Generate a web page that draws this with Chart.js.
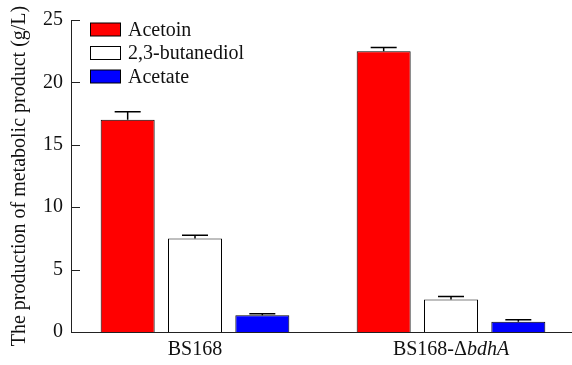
<!DOCTYPE html>
<html>
<head>
<meta charset="utf-8">
<script src="https://cdn.jsdelivr.net/npm/chart.js@4.4.0/dist/chart.umd.min.js"></script>
<style>
  html, body { margin: 0; padding: 0; background: #fff; }
  #wrap { width: 572px; height: 365px; }
</style>
</head>
<body>
<div id="wrap"><canvas id="myChart" width="572" height="365"></canvas></div>
<script>
var strains = ['BS168', 'BS168-\u0394bdhA'];
var acetoin = [17.0, 22.5];
var acetoinErr = [0.65, 0.3];
var butanediol = [7.5, 2.6];
var butanediolErr = [0.25, 0.25];
var acetate = [1.35, 0.82];
var acetateErr = [0.12, 0.17];
var yTicks = [0, 5, 10, 15, 20, 25];

var FONT = '"Liberation Serif", "Times New Roman", serif';

// the original groups are not centred in the plot: stretch the x scale a bit
var shiftX = {
  id: 'shiftX',
  afterLayout: function(chart) {
    var x = chart.scales.x;
    x.left -= 4;
    x.right += 7;
    x.width = x.right - x.left;
    x.configure();
  }
};

// upper error bars, drawn through the y scale
var errorBars = {
  id: 'errorBars',
  afterDatasetsDraw: function(chart) {
    var ctx = chart.ctx;
    var y = chart.scales.y;
    ctx.save();
    ctx.strokeStyle = '#000';
    ctx.lineWidth = 1.5;
    chart.data.datasets.forEach(function(ds, i) {
      var meta = chart.getDatasetMeta(i);
      meta.data.forEach(function(bar, j) {
        var top = y.getPixelForValue(ds.data[j] + ds.errors[j]);
        var base = y.getPixelForValue(ds.data[j]);
        ctx.beginPath();
        ctx.moveTo(bar.x, base);
        ctx.lineTo(bar.x, top);
        ctx.moveTo(bar.x - 13, top);
        ctx.lineTo(bar.x + 13, top);
        ctx.stroke();
      });
    });
    ctx.restore();
  }
};

// axis lines, inward ticks on y axis, mixed-style x labels, legend inside plot
var decorations = {
  id: 'decorations',
  afterDraw: function(chart) {
    var ctx = chart.ctx;
    var y = chart.scales.y;
    var x = chart.scales.x;
    var area = chart.chartArea;
    var left = area.left;
    ctx.save();
    ctx.strokeStyle = '#222';
    ctx.lineWidth = 1;
    var by = Math.round(area.bottom) + 0.5;
    ctx.beginPath();
    ctx.moveTo(left, by);
    ctx.lineTo(chart.width, by);
    ctx.stroke();
    y.ticks.forEach(function(t) {
      var py = Math.round(y.getPixelForValue(t.value)) + 0.5;
      ctx.beginPath();
      ctx.moveTo(left, py);
      ctx.lineTo(left + 9, py);
      ctx.stroke();
    });

    // x labels (italic gene name)
    ctx.fillStyle = '#111';
    ctx.textBaseline = 'middle';
    strains.forEach(function(s, i) {
      var cx = x.getPixelForTick(i);
      var parts = s.indexOf('\u0394') >= 0 ? [s.slice(0, s.indexOf('\u0394') + 1), s.slice(s.indexOf('\u0394') + 1)] : [s, ''];
      ctx.font = '20px ' + FONT;
      var w1 = ctx.measureText(parts[0]).width;
      ctx.font = 'italic 20px ' + FONT;
      var w2 = ctx.measureText(parts[1]).width;
      var sx = cx - (w1 + w2) / 2;
      ctx.textAlign = 'left';
      ctx.font = '20px ' + FONT;
      ctx.fillText(parts[0], sx, 350);
      ctx.font = 'italic 20px ' + FONT;
      ctx.fillText(parts[1], sx + w1, 350);
    });

    // legend
    ctx.font = '20px ' + FONT;
    chart.data.datasets.forEach(function(ds, i) {
      var cy = 29.5 + i * 23.5;
      ctx.fillStyle = ds.backgroundColor;
      ctx.fillRect(90.5, cy - 6.5, 30, 13);
      ctx.strokeStyle = '#000';
      ctx.strokeRect(90.5, cy - 6.5, 30, 13);
      ctx.fillStyle = '#111';
      ctx.fillText(ds.label, 128, cy + 1);
    });
    ctx.restore();
  }
};

var ctx = document.getElementById('myChart').getContext('2d');
var myChart = new Chart(ctx, {
  type: 'bar',
  data: {
    labels: strains,
    datasets: [{
      label: 'Acetoin',
      data: acetoin,
      errors: acetoinErr,
      backgroundColor: '#ff0000',
      borderColor: '#000',
      borderWidth: 1
    }, {
      label: '2,3-butanediol',
      data: butanediol,
      errors: butanediolErr,
      backgroundColor: '#ffffff',
      borderColor: '#000',
      borderWidth: 1
    }, {
      label: 'Acetate',
      data: acetate,
      errors: acetateErr,
      backgroundColor: '#0000ff',
      borderColor: '#000',
      borderWidth: 1
    }]
  },
  options: {
    responsive: false,
    animation: false,
    layout: { padding: { top: 17, right: 0, bottom: 0, left: 0 } },
    categoryPercentage: 0.789,
    barPercentage: 0.802,
    plugins: {
      legend: { display: false },
      tooltip: { enabled: false }
    },
    scales: {
      x: {
        grid: { display: false, drawTicks: false },
        border: { display: false },
        ticks: { color: 'rgba(0,0,0,0)', font: { size: 20, family: FONT } },
        afterFit: function(s) { s.height = 33; }
      },
      y: {
        min: 0,
        max: 25,
        afterBuildTicks: function(s) {
          s.ticks = yTicks.map(function(v) { return { value: v }; });
        },
        grid: { display: false, drawTicks: false },
        border: { display: true, color: '#222', width: 1 },
        ticks: { color: '#111', padding: 8, font: { size: 20, family: FONT } },
        title: {
          display: true,
          text: 'The production of metabolic product (g/L)',
          color: '#111',
          padding: { top: 8, bottom: 0 },
          font: { size: 20, family: FONT }
        },
        afterFit: function(s) { s.width = 71; }
      }
    }
  },
  plugins: [shiftX, errorBars, decorations]
});
</script>
</body>
</html>
